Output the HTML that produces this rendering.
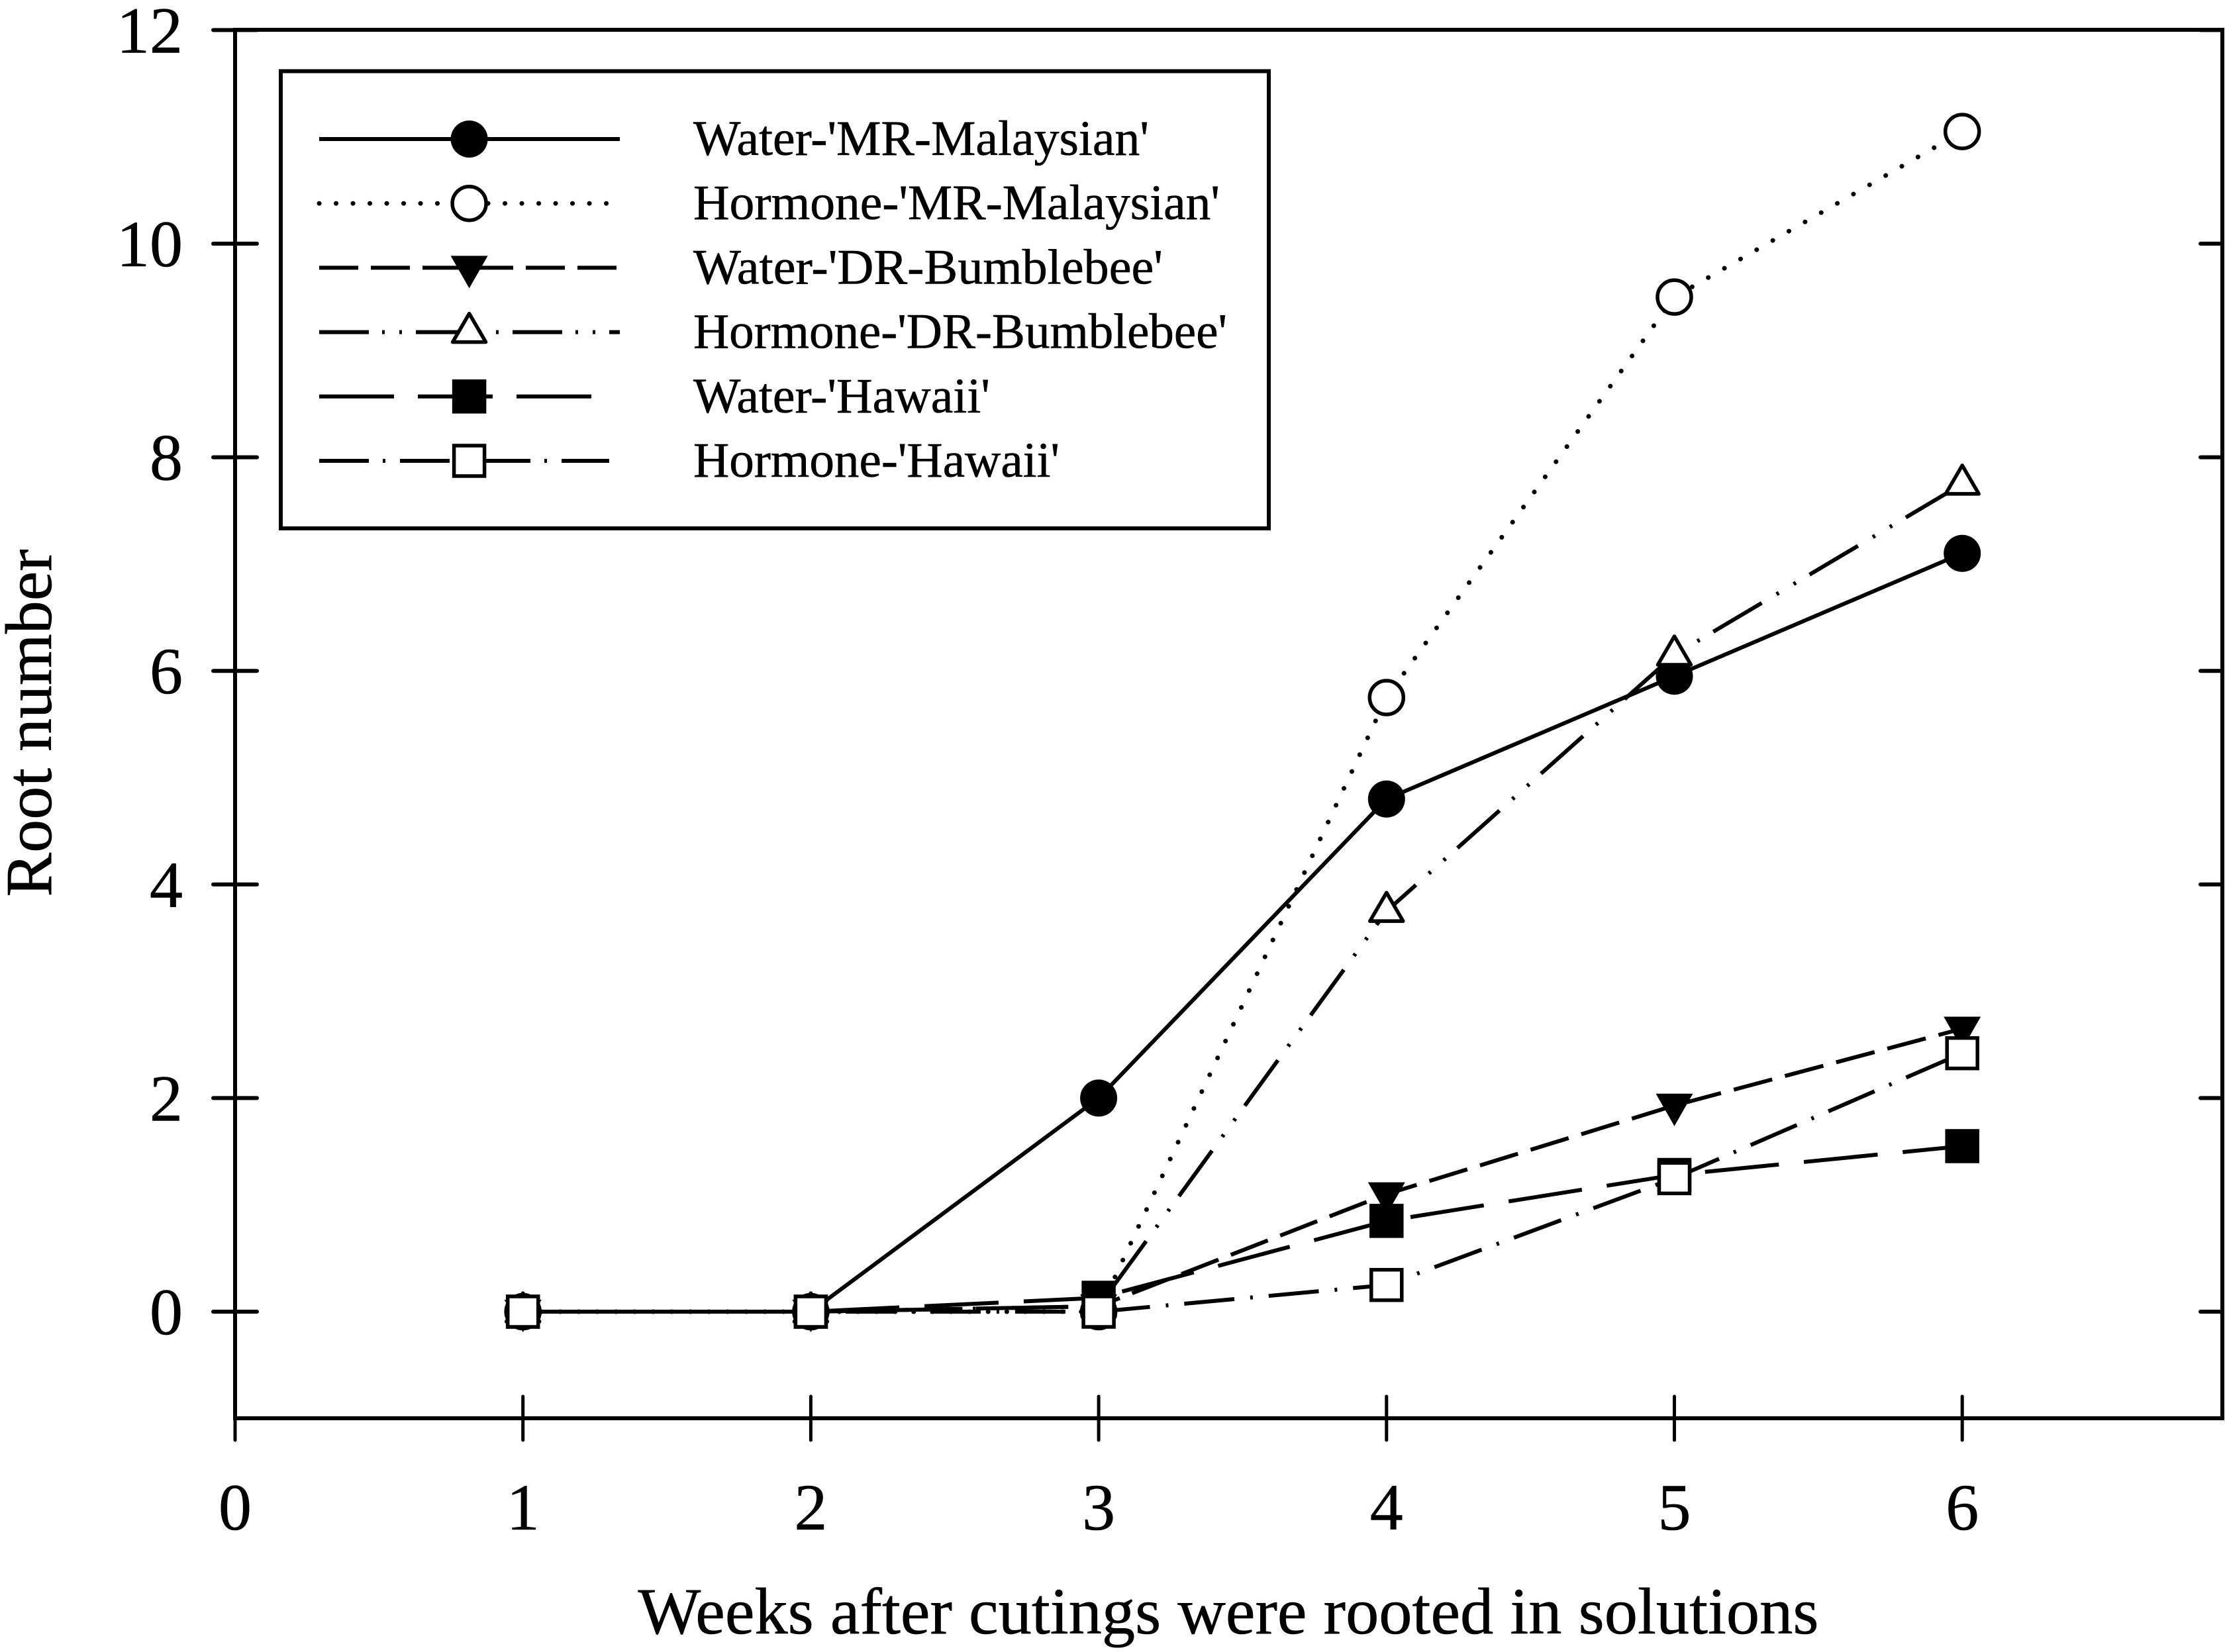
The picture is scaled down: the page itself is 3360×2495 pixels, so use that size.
<!DOCTYPE html>
<html lang="en">
<head>
<meta charset="utf-8">
<title>Root number by week</title>
<style>
html,body{margin:0;padding:0;background:#fff}
svg{display:block}
text{font-family:"Liberation Serif",serif;fill:#000;stroke:#000;stroke-width:.6px}
</style>
</head>
<body>
<svg id="chart" xmlns="http://www.w3.org/2000/svg" width="3360" height="2495" viewBox="0 0 3360 2495">
  <rect x="0" y="0" width="3360" height="2495" fill="#fff"/>
  <g id="axes"></g>
  <g id="series"></g>
  <g id="legend"></g>
  <text x="1855" y="2467" font-size="100" text-anchor="middle" textLength="1783" lengthAdjust="spacingAndGlyphs">Weeks after cutings were rooted in solutions</text>
  <text x="0" y="0" font-size="100" text-anchor="middle" transform="translate(77 1092) rotate(-90)">Root number</text>
</svg>
<script>
const weeks = [1, 2, 3, 4, 5, 6];
const waterMalaysian = [0, 0, 2, 4.8, 5.95, 7.1];
const hormoneMalaysian = [0, 0, 0, 5.75, 9.5, 11.05];
const waterBumblebee = [0, 0, 0.05, 1.1, 1.93, 2.65];
const hormoneBumblebee = [0, 0, 0.05, 3.75, 6.15, 7.75];
const waterHawaii = [0, 0, 0.13, 0.85, 1.28, 1.55];
const hormoneHawaii = [0, 0, 0, 0.25, 1.25, 2.42];
const seriesNames = ["Water-'MR-Malaysian'", "Hormone-'MR-Malaysian'", "Water-'DR-Bumblebee'", "Hormone-'DR-Bumblebee'", "Water-'Hawaii'", "Hormone-'Hawaii'"];
const xTickLabels = [0, 1, 2, 3, 4, 5, 6];
const yTickLabels = [0, 2, 4, 6, 8, 10, 12];

const seriesValues = [waterMalaysian, hormoneMalaysian, waterBumblebee, hormoneBumblebee, waterHawaii, hormoneHawaii];

const NS = 'http://www.w3.org/2000/svg';
const X_ZERO = 355, X_UNIT = 434.7, Y_ZERO = 1981, Y_UNIT = 161.3;
const PLOT_LEFT = 355, PLOT_RIGHT = 3356, PLOT_TOP = 45, PLOT_BOTTOM = 2142;
const LINE_W = 6, TICK = 33;

function xScale(v) { return X_ZERO + v * X_UNIT; }
function yScale(v) { return Y_ZERO - v * Y_UNIT; }

const seriesStyles = [
  { key: 'water-mr-malaysian', marker: 'circle', filled: true, plotDash: '', legendDash: '', phase: 0, cap: 'butt', legendEnd: 936, labelLen: 688 },
  { key: 'hormone-mr-malaysian', marker: 'circle', filled: false, plotDash: '0.1 28', legendDash: '0.1 25.4', phase: 0, cap: 'round', legendEnd: 934, labelLen: 795 },
  { key: 'water-dr-bumblebee', marker: 'triangle-down', filled: true, plotDash: '60 20', legendDash: '59 19', phase: 36.3, cap: 'butt', legendEnd: 932, labelLen: 709 },
  { key: 'hormone-dr-bumblebee', marker: 'triangle-up', filled: false, plotDash: '85 26 4 26 4 24', legendDash: '75 20 4 22 4 21', phase: 107.7, cap: 'butt', legendEnd: 936, labelLen: 806 },
  { key: 'water-hawaii', marker: 'square', filled: true, plotDash: '112 38', legendDash: '113 36', phase: 143.4, cap: 'butt', legendEnd: 895, labelLen: 448 },
  { key: 'hormone-hawaii', marker: 'square', filled: false, plotDash: '76 24 4 24', legendDash: '75 21 4 22', phase: 24.8, cap: 'butt', legendEnd: 920, labelLen: 553 }
];

function make(tag, attrs, parent) {
  const el = document.createElementNS(NS, tag);
  for (const k in attrs) el.setAttribute(k, attrs[k]);
  parent.appendChild(el);
  return el;
}

function drawMarker(kind, filled, cx, cy, parent) {
  const fill = filled ? '#000' : '#fff';
  const sw = 5.5;
  let el;
  if (kind === 'circle') {
    el = make('circle', { cx: cx, cy: cy, r: filled ? 28 : 25.5, fill: fill, stroke: '#000', 'stroke-width': filled ? 0 : sw }, parent);
  } else if (kind === 'square') {
    el = make('rect', { x: cx - 23, y: cy - 23, width: 46, height: 46, fill: fill, stroke: '#000', 'stroke-width': sw }, parent);
  } else if (kind === 'triangle-up') {
    el = make('polygon', { points: (cx - 25) + ',' + (cy + 15) + ' ' + (cx + 25) + ',' + (cy + 15) + ' ' + cx + ',' + (cy - 28), fill: fill, stroke: '#000', 'stroke-width': sw, 'stroke-linejoin': 'round' }, parent);
  } else {
    el = make('polygon', { points: (cx - 28) + ',' + (cy - 18) + ' ' + (cx + 28) + ',' + (cy - 18) + ' ' + cx + ',' + (cy + 31), fill: fill }, parent);
  }
  return el;
}

/* axes */
const axesG = document.getElementById('axes');
const frame = make('path', { d: 'M' + PLOT_LEFT + ' ' + PLOT_TOP + 'H' + PLOT_RIGHT + 'V' + PLOT_BOTTOM + 'H' + PLOT_LEFT + 'Z', fill: 'none', stroke: '#000', 'stroke-width': LINE_W }, axesG);



xTickLabels.forEach(function (t) {
  const px = xScale(t);
  const tick = make('line', { x1: px, x2: px, y1: PLOT_BOTTOM - TICK, y2: PLOT_BOTTOM + TICK, stroke: '#000', 'stroke-width': 5, 'stroke-linecap': 'round' }, axesG);
  
  
  const label = make('text', { x: px, y: 2310, 'font-size': 100, 'text-anchor': 'middle' }, axesG);
  
  
  label.textContent = t;
});

yTickLabels.forEach(function (t) {
  const py = yScale(t);
  const left = make('line', { x1: PLOT_LEFT - TICK, x2: PLOT_LEFT + TICK, y1: py, y2: py, stroke: '#000', 'stroke-width': LINE_W, 'stroke-linecap': 'round' }, axesG);
  
  
  const right = make('line', { x1: PLOT_RIGHT - TICK, x2: PLOT_RIGHT, y1: py, y2: py, stroke: '#000', 'stroke-width': LINE_W, 'stroke-linecap': 'round' }, axesG);
  
  
  const label = make('text', { x: 276, y: py + 34, 'font-size': 100, 'text-anchor': 'end' }, axesG);
  
  
  label.textContent = t;
});

/* series */
const seriesG = document.getElementById('series');
seriesValues.forEach(function (vals, i) {
  const st = seriesStyles[i];
  const g = make('g', {}, seriesG);
  
  
  const pts = vals.map(function (v, j) { return xScale(weeks[j]) + ',' + yScale(v); }).join(' ');
  const line = make('polyline', { points: pts, fill: 'none', stroke: '#000', 'stroke-width': LINE_W, 'stroke-linecap': st.cap, 'stroke-linejoin': 'round' }, g);
  if (st.plotDash) {
    line.setAttribute('stroke-dasharray', st.plotDash);
    line.setAttribute('stroke-dashoffset', st.phase);
  }
  if (i === 1) line.setAttribute('stroke-width', 7);
  
  
  vals.forEach(function (v, j) {
    const m = drawMarker(st.marker, st.filled, xScale(weeks[j]), yScale(v), g);
    
    
  });
});

/* legend */
const legendG = document.getElementById('legend');
const box = make('rect', { x: 424, y: 107.5, width: 1492, height: 690.5, fill: '#fff', stroke: '#000', 'stroke-width': LINE_W }, legendG);


seriesNames.forEach(function (name, i) {
  const st = seriesStyles[i];
  const rowY = 210 + i * 97.2;
  const entry = make('g', {}, legendG);
  
  
  const line = make('line', { x1: 482, x2: st.legendEnd, y1: rowY, y2: rowY, stroke: '#000', 'stroke-width': LINE_W, 'stroke-linecap': st.cap }, entry);
  if (st.legendDash) line.setAttribute('stroke-dasharray', st.legendDash);
  if (i === 1) line.setAttribute('stroke-width', 7);
  
  
  const m = drawMarker(st.marker, st.filled, 708.6, rowY, entry);
  
  
  const label = make('text', { x: 1047, y: rowY + 24, 'font-size': 75, textLength: st.labelLen, lengthAdjust: 'spacingAndGlyphs' }, entry);
  
  
  label.textContent = name;
});
</script>
</body>
</html>
